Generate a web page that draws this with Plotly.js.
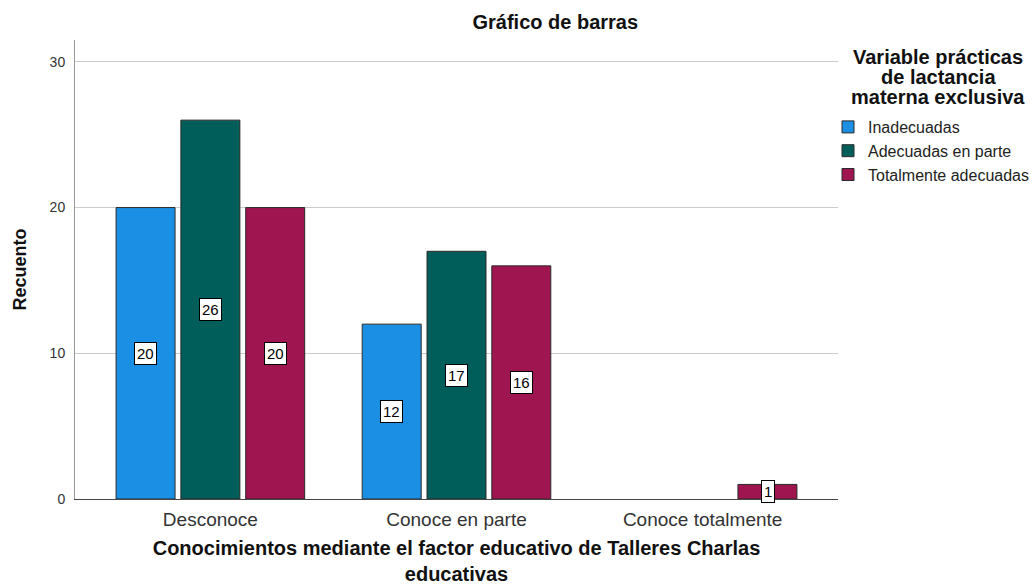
<!DOCTYPE html>
<html><head><meta charset="utf-8">
<script src="https://cdn.plot.ly/plotly-3.0.1.min.js"></script>
<style>html,body{margin:0;padding:0;background:#fff}#c{width:1036px;height:585px}</style>
</head><body><div id="c"></div>
<script>
const categories = ["Desconoce", "Conoce en parte", "Conoce totalmente"];
const seriesNames = ["Inadecuadas", "Adecuadas en parte", "Totalmente adecuadas"];
const inadecuadas = [20, 12, null];
const adecuadasEnParte = [26, 17, null];
const totalmenteAdecuadas = [20, 16, 1];
const legendTitleLines = ["Variable prácticas", "de lactancia", "materna exclusiva"];
const colors = ["#1A8FE3", "#005E5A", "#9E1550"];

const FONT = "Arial, Liberation Sans, sans-serif";
const ML = 75, MR = 2, MT = 40, MB = 86, W = 1036, H = 585;
const PW = W - ML - MR, PH = H - MT - MB;
const px2x = p => (p - ML) / PW;
const py2y = p => (H - MB - p) / PH;

const values = [inadecuadas, adecuadasEnParte, totalmenteAdecuadas];
const traces = values.map((v, i) => ({
  type: "bar", x: categories, y: v, name: seriesNames[i],
  marker: {color: colors[i], line: {color: "#2a2a2a", width: 1}},
  hoverinfo: "x+y+name"
}));

const annotations = [];
values.forEach((v, i) => {
  v.forEach((val, j) => {
    if (val === null) return;
    annotations.push({
      x: categories[j], y: val / 2, xref: "x", yref: "y",
      text: String(val), showarrow: false, xshift: (i - 1) * 65,
      font: {family: FONT, size: 15, color: "#000"},
      bgcolor: "#fff", bordercolor: "#000", borderwidth: 1, borderpad: 2
    });
  });
});
legendTitleLines.forEach((t, k) => {
  annotations.push({
    xref: "paper", yref: "paper", x: px2x(938), xanchor: "center",
    y: py2y(57 + k * 20), yanchor: "middle",
    text: "<b>" + t + "</b>", showarrow: false,
    font: {family: FONT, size: 20, color: "#111"}
  });
});

const layout = {
  width: W, height: H,
  margin: {l: ML, r: MR, t: MT, b: MB},
  paper_bgcolor: "#fff", plot_bgcolor: "#fff",
  font: {family: FONT, color: "#222"},
  title: {text: "<b>Gráfico de barras</b>", x: 0.536, xanchor: "center", y: 0.962, yanchor: "middle",
          font: {size: 20, color: "#111"}},
  barmode: "group", bargap: 0.21, bargroupgap: 0.09,
  showlegend: true,
  legend: {
    x: px2x(828), xanchor: "left", y: py2y(110), yanchor: "top",
    font: {size: 16, color: "#222"}, itemwidth: 30, tracegroupgap: 0,
    bgcolor: "rgba(0,0,0,0)"
  },
  xaxis: {
    type: "category", range: [-0.55, 2.55], domain: [0, 763 / PW],
    showline: true, linecolor: "#444", linewidth: 1,
    ticks: "", tickfont: {size: 19, color: "#333"}, ticklabelstandoff: 3,
    title: {text: "<b>Conocimientos mediante el factor educativo de Talleres Charlas<br>educativas</b>",
            font: {size: 20, color: "#111"}, standoff: 25},
    showgrid: false, zeroline: false
  },
  yaxis: {
    range: [0, 31.5], tickvals: [0, 10, 20, 30], ticktext: ["0", "10", "20", "30"],
    showline: true, linecolor: "#999", linewidth: 1,
    gridcolor: "#cccccc", gridwidth: 1, zeroline: false,
    ticks: "", tickfont: {size: 14, color: "#333"}, ticklabelstandoff: 6,
    title: {text: "<b>Recuento</b>", font: {size: 18, color: "#111"}, standoff: 18}
  },
  annotations: annotations
};

Plotly.newPlot("c", traces, layout, {displayModeBar: false});
</script></body></html>
